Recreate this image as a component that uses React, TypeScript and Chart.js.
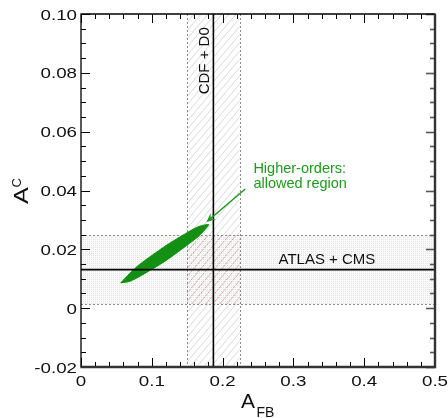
import { useEffect, useRef } from "react";
import { Chart, registerables } from "chart.js";

Chart.register(...registerables);

// ---- axis ranges and tick labels ----
const X_MIN = 0;
const X_MAX = 0.5;
const Y_MIN = -0.02;
const Y_MAX = 0.1;
const X_TICK_VALUES = [0, 0.1, 0.2, 0.3, 0.4, 0.5];
const X_TICK_LABELS = ["0", "0.1", "0.2", "0.3", "0.4", "0.5"];
const Y_TICK_VALUES = [-0.02, 0, 0.02, 0.04, 0.06, 0.08, 0.1];
const Y_TICK_LABELS = ["-0.02", "0", "0.02", "0.04", "0.06", "0.08", "0.10"];
const X_MINOR_STEP = 0.02;
const Y_MINOR_STEP = 0.005;

// ---- measurements ----
const TEVATRON_BAND = [0.15, 0.224]; // CDF + D0 (A_FB)
const TEVATRON_CENTRAL = 0.187;
const LHC_BAND = [0.0014, 0.0248]; // ATLAS + CMS (A_C)
const LHC_CENTRAL = 0.0131;

// ---- allowed region outline (higher orders) ----
const REGION_X = [0.0561, 0.0687, 0.0829, 0.1183, 0.1537, 0.1678, 0.1806, 0.1678, 0.1537, 0.1183, 0.0829, 0.0687, 0.0561];
const REGION_Y = [0.0086, 0.0118, 0.0149, 0.021, 0.0262, 0.0279, 0.0284, 0.0248, 0.0221, 0.0159, 0.0108, 0.0091, 0.0086];

// ---- annotation ----
const ARROW_FROM = [0.232, 0.0405];
const ARROW_TO = [0.1772, 0.0293];
const NOTE_LINES = ["Higher-orders:", "allowed region"];

const GREEN = "#1c9a1c";
const FILL_GREEN = "#139013";
const FONT = "'Liberation Sans', Arial, Helvetica, sans-serif";

function makeStipple(): CanvasPattern | string {
  const c = document.createElement("canvas");
  c.width = 2;
  c.height = 2;
  const g = c.getContext("2d");
  if (!g) return "#f4f4f4";
  g.fillStyle = "#fafafa";
  g.fillRect(0, 0, 2, 2);
  g.fillStyle = "#e2e2e2";
  g.fillRect(1, 1, 1, 1);
  const p = g.createPattern(c, "repeat");
  return p || "#f4f4f4";
}

function hatch(ctx: CanvasRenderingContext2D, l: number, t: number, w: number, h: number, color: string, dash: number[], spacing: number) {
  ctx.save();
  ctx.beginPath();
  ctx.rect(l, t, w, h);
  ctx.clip();
  ctx.strokeStyle = color;
  ctx.lineWidth = 1;
  ctx.setLineDash(dash);
  const slant = 0.85;
  for (let k = -h * slant - spacing; k < w + spacing; k += spacing) {
    ctx.beginPath();
    ctx.moveTo(l + k, t + h);
    ctx.lineTo(l + k + h * slant, t);
    ctx.stroke();
  }
  ctx.restore();
}

const bandsPlugin = {
  id: "bands",
  beforeDatasetsDraw(chart: any) {
    const { ctx, chartArea: a, scales } = chart;
    const px = (v: number) => scales.x.getPixelForValue(v);
    const py = (v: number) => scales.y.getPixelForValue(v);
    ctx.save();
    ctx.beginPath();
    ctx.rect(a.left, a.top, a.right - a.left, a.bottom - a.top);
    ctx.clip();
    const yt = py(LHC_BAND[1]);
    const yb = py(LHC_BAND[0]);
    const xl = px(TEVATRON_BAND[0]);
    const xr = px(TEVATRON_BAND[1]);
    // stipple for horizontal band
    ctx.fillStyle = makeStipple();
    ctx.fillRect(a.left, yt, a.right - a.left, yb - yt);
    // grey hatch for vertical band (outside overlap)
    hatch(ctx, xl, a.top, xr - xl, yt - a.top, "#d9d9d9", [], 7);
    hatch(ctx, xl, yb, xr - xl, a.bottom - yb, "#d9d9d9", [], 7);
    // overlap: reddish hatch
    hatch(ctx, xl, yt, xr - xl, yb - yt, "#cf9f9f", [2.5, 1], 7);
    // dotted borders
    ctx.strokeStyle = "#8a8a8a";
    ctx.lineWidth = 1;
    ctx.setLineDash([2, 2]);
    for (const xv of [xl, xr]) {
      ctx.beginPath();
      ctx.moveTo(Math.round(xv) + 0.5, a.top);
      ctx.lineTo(Math.round(xv) + 0.5, a.bottom);
      ctx.stroke();
    }
    for (const yv of [yt, yb]) {
      ctx.beginPath();
      ctx.moveTo(a.left, Math.round(yv) + 0.5);
      ctx.lineTo(a.right, Math.round(yv) + 0.5);
      ctx.stroke();
    }
    ctx.restore();
  },
  afterDatasetsDraw(chart: any) {
    const { ctx, chartArea: a, scales } = chart;
    const px = (v: number) => scales.x.getPixelForValue(v);
    const py = (v: number) => scales.y.getPixelForValue(v);
    ctx.save();
    // central values
    ctx.strokeStyle = "#000";
    ctx.lineWidth = 1.6;
    const xc = px(TEVATRON_CENTRAL);
    const yc = py(LHC_CENTRAL);
    ctx.beginPath();
    ctx.moveTo(xc, a.top);
    ctx.lineTo(xc, a.bottom);
    ctx.stroke();
    ctx.beginPath();
    ctx.moveTo(a.left, yc);
    ctx.lineTo(a.right, yc);
    ctx.stroke();

    // band labels
    ctx.fillStyle = "#111";
    ctx.font = `15px ${FONT}`;
    ctx.textAlign = "left";
    ctx.textBaseline = "alphabetic";
    ctx.fillText("ATLAS + CMS", px(0.279), yc - 6);
    ctx.save();
    ctx.translate(xc - 4, py(0.0727));
    ctx.rotate(-Math.PI / 2);
    ctx.fillText("CDF + D0", 0, 0);
    ctx.restore();

    // annotation arrow
    const x0 = px(ARROW_FROM[0]);
    const y0 = py(ARROW_FROM[1]);
    const x1 = px(ARROW_TO[0]);
    const y1 = py(ARROW_TO[1]);
    const ang = Math.atan2(y1 - y0, x1 - x0);
    ctx.strokeStyle = GREEN;
    ctx.fillStyle = GREEN;
    ctx.lineWidth = 1.5;
    ctx.beginPath();
    ctx.moveTo(x0, y0);
    ctx.lineTo(x1 - 5 * Math.cos(ang), y1 - 5 * Math.sin(ang));
    ctx.stroke();
    const hl = 9;
    const hw = 4;
    ctx.beginPath();
    ctx.moveTo(x1, y1);
    ctx.lineTo(x1 - hl * Math.cos(ang) + hw * Math.sin(ang), y1 - hl * Math.sin(ang) - hw * Math.cos(ang));
    ctx.lineTo(x1 - 0.6 * hl * Math.cos(ang), y1 - 0.6 * hl * Math.sin(ang));
    ctx.lineTo(x1 - hl * Math.cos(ang) - hw * Math.sin(ang), y1 - hl * Math.sin(ang) + hw * Math.cos(ang));
    ctx.closePath();
    ctx.fill();
    ctx.font = `14.5px ${FONT}`;
    ctx.fillText(NOTE_LINES[0], px(0.2435), py(0.0459));
    ctx.fillText(NOTE_LINES[1], px(0.2435), py(0.0408));

    // ticks (inside, all four sides)
    ctx.strokeStyle = "#000";
    ctx.lineWidth = 1;
    const major = 9;
    const minor = 5;
    const nx = Math.round((X_MAX - X_MIN) / X_MINOR_STEP);
    for (let i = 0; i <= nx; i++) {
      const v = X_MIN + i * X_MINOR_STEP;
      const isMajor = X_TICK_VALUES.some((t) => Math.abs(t - v) < 1e-9);
      const len = isMajor ? major : minor;
      const xp = Math.round(px(v)) + 0.5;
      ctx.beginPath();
      ctx.moveTo(xp, a.bottom);
      ctx.lineTo(xp, a.bottom - len);
      ctx.moveTo(xp, a.top);
      ctx.lineTo(xp, a.top + len);
      ctx.stroke();
    }
    const ny = Math.round((Y_MAX - Y_MIN) / Y_MINOR_STEP);
    for (let i = 0; i <= ny; i++) {
      const v = Y_MIN + i * Y_MINOR_STEP;
      const isMajor = Y_TICK_VALUES.some((t) => Math.abs(t - v) < 1e-9);
      const len = isMajor ? major : minor;
      const yp = Math.round(py(v)) + 0.5;
      ctx.strokeStyle = "#000";
      ctx.lineWidth = 1;
      ctx.beginPath();
      ctx.moveTo(a.left, yp);
      ctx.lineTo(a.left + len, yp);
      ctx.stroke();
      ctx.strokeStyle = "#555";
      ctx.lineWidth = 1.6;
      ctx.beginPath();
      ctx.moveTo(a.right, yp);
      ctx.lineTo(a.right - len, yp);
      ctx.stroke();
    }

    // frame
    ctx.strokeStyle = "#000";
    ctx.lineWidth = 1.3;
    ctx.beginPath();
    ctx.moveTo(a.left, a.bottom);
    ctx.lineTo(a.left, a.top);
    ctx.lineTo(a.right, a.top);
    ctx.stroke();
    ctx.strokeStyle = "#333";
    ctx.lineWidth = 2.4;
    ctx.beginPath();
    ctx.moveTo(a.left - 0.6, a.bottom);
    ctx.lineTo(a.right, a.bottom);
    ctx.lineTo(a.right, a.top - 0.6);
    ctx.stroke();

    // tick labels (wide glyphs)
    ctx.fillStyle = "#111";
    ctx.font = `15px ${FONT}`;
    ctx.textBaseline = "alphabetic";
    X_TICK_VALUES.forEach((v, i) => {
      ctx.save();
      ctx.translate(px(v), a.bottom + 19);
      ctx.scale(1.25, 1);
      ctx.textAlign = "center";
      ctx.fillText(X_TICK_LABELS[i], 0, 0);
      ctx.restore();
    });
    Y_TICK_VALUES.forEach((v, i) => {
      ctx.save();
      ctx.translate(a.left - 4, py(v) + 5.5);
      ctx.scale(1.25, 1);
      ctx.textAlign = "right";
      ctx.fillText(Y_TICK_LABELS[i], 0, 0);
      ctx.restore();
    });

    // axis titles
    ctx.textAlign = "left";
    ctx.font = `21px ${FONT}`;
    ctx.fillText("A", a.left + 160, a.bottom + 41);
    ctx.font = `14px ${FONT}`;
    ctx.fillText("FB", a.left + 175.5, a.bottom + 50);
    ctx.save();
    ctx.translate(28, 204);
    ctx.rotate(-Math.PI / 2);
    ctx.scale(1.2, 1);
    ctx.font = `21px ${FONT}`;
    ctx.fillText("A", 0, 0);
    ctx.restore();
    ctx.save();
    ctx.translate(21, 187.5);
    ctx.rotate(-Math.PI / 2);
    ctx.font = `13px ${FONT}`;
    ctx.fillText("C", 0, 0);
    ctx.restore();
    ctx.restore();
  },
};

export default function App() {
  const ref = useRef<HTMLCanvasElement | null>(null);
  useEffect(() => {
    if (!ref.current) return;
    const points = REGION_X.map((x, i) => ({ x, y: REGION_Y[i] }));
    const chart = new Chart(ref.current, {
      type: "line",
      data: {
        datasets: [
          {
            label: "Higher-orders: allowed region",
            data: points,
            borderColor: FILL_GREEN,
            backgroundColor: FILL_GREEN,
            borderWidth: 1,
            pointRadius: 0,
            tension: 0.2,
            fill: "shape",
          } as any,
        ],
      },
      options: {
        animation: false,
        responsive: false,
        maintainAspectRatio: false,
        layout: { padding: { left: 81, right: 13, top: 14, bottom: 51 } },
        plugins: { legend: { display: false }, tooltip: { enabled: false } },
        scales: {
          x: { type: "linear", min: X_MIN, max: X_MAX, display: false },
          y: { type: "linear", min: Y_MIN, max: Y_MAX, display: false },
        },
      },
      plugins: [bandsPlugin],
    });
    return () => chart.destroy();
  }, []);
  return (
    <div style={{ position: "fixed", left: 0, top: 0, width: 448, height: 418, background: "#fff" }}>
      <canvas ref={ref} width={448} height={418} style={{ width: 448, height: 418 }} />
    </div>
  );
}
